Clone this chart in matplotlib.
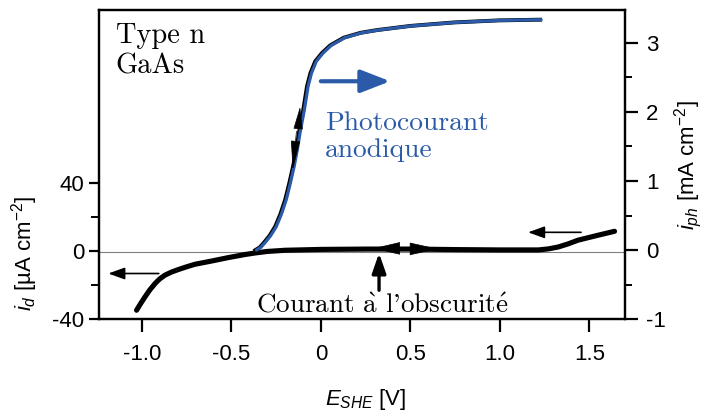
import matplotlib
matplotlib.use("Agg")
import matplotlib.pyplot as plt
from matplotlib.ticker import FixedLocator, FuncFormatter

plt.rcParams['font.family'] = ['Liberation Sans', 'DejaVu Sans']
plt.rcParams['mathtext.fontset'] = 'custom'
plt.rcParams['mathtext.rm'] = 'Liberation Sans'
plt.rcParams['mathtext.it'] = 'Liberation Sans:italic'
plt.rcParams['mathtext.bf'] = 'Liberation Sans:bold'
plt.rcParams['axes.unicode_minus'] = False

# ---- data ----
# photocurrent (right axis, mA cm^-2)
photo_E = [-0.36, -0.335, -0.311, -0.28, -0.249, -0.22, -0.193, -0.17, -0.149, -0.13,
           -0.116, -0.092, -0.071, -0.052, -0.025, 0.013, 0.059, 0.134, 0.227,
           0.32, 0.506, 0.748, 1.0, 1.23]
photo_i = [0.0, 0.04, 0.11, 0.21, 0.34, 0.52, 0.73, 0.97, 1.21, 1.47,
           1.70, 2.03, 2.37, 2.56, 2.73, 2.85, 2.96, 3.07, 3.14,
           3.18, 3.24, 3.29, 3.32, 3.33]
# dark current (left axis, uA cm^-2)
dark_E = [-1.029, -1.005, -0.982, -0.955, -0.926, -0.9, -0.871, -0.835, -0.796, -0.75,
          -0.703, -0.61, -0.517, -0.424, -0.368, -0.3, -0.2, 0.0, 0.26, 0.5, 0.75,
          1.0, 1.215, 1.27, 1.325, 1.38, 1.436, 1.548, 1.64]
dark_i = [-34.7, -30.6, -26.9, -22.8, -19.1, -16.4, -14.2, -12.4, -10.9, -9.3,
          -7.8, -5.9, -3.9, -2.1, -1.2, -0.3, 0.4, 0.9, 1.1, 1.1, 0.8,
          0.6, 0.6, 1.2, 2.3, 4.1, 6.3, 9.2, 11.5]

x_ticks = [-1.0, -0.5, 0.0, 0.5, 1.0, 1.5]
x_ticklabels = ['-1.0', '-0.5', '0', '0.5', '1.0', '1.5']
left_ticks = [-40, 0, 40]
left_minor = [-20, 20]
right_ticks = [-1, 0, 1, 2, 3]
right_minor = [-0.5, 0.5, 1.5, 2.5]

BLUE = '#2a5aa8'
SERIF = ['cmr10', 'DejaVu Serif']

fig = plt.figure(figsize=(7.04, 4.2), dpi=100)
L, R, T, B = 99.3, 625.3, 10.0, 319.3
ax = fig.add_axes([L / 704, 1 - B / 420, (R - L) / 704, (B - T) / 420])
ax2 = ax.twinx()

ax.set_xlim(-1.237, 1.70)
ax.set_ylim(-40, 141)
ax2.set_ylim(-1, 3.47)

for a in (ax, ax2):
    for s in a.spines.values():
        s.set_linewidth(1.6)

# zero line
ax.axhline(-0.6, color='#808080', lw=0.8, zorder=1)

# curves
ax.plot(dark_E, dark_i, color='black', lw=3.7, solid_capstyle='round',
        solid_joinstyle='round', zorder=3)
ax2.plot([e - 0.006 for e in photo_E], photo_i, color='black', lw=2.8,
         solid_joinstyle='round', zorder=3)
ax2.plot(photo_E, photo_i, color=BLUE, lw=2.3, solid_joinstyle='round',
         solid_capstyle='round', zorder=4)

# ticks
ax.xaxis.set_major_locator(FixedLocator(x_ticks))
ax.set_xticklabels(x_ticklabels)
ax.yaxis.set_major_locator(FixedLocator(left_ticks))
ax.yaxis.set_minor_locator(FixedLocator(left_minor))
ax.yaxis.set_major_formatter(FuncFormatter(lambda v, p: '%d' % v))
ax2.yaxis.set_major_locator(FixedLocator(right_ticks))
ax2.yaxis.set_minor_locator(FixedLocator(right_minor))
ax2.yaxis.set_major_formatter(FuncFormatter(lambda v, p: '%d' % v))

ax.tick_params(axis='x', which='major', direction='out', length=9.5, width=1.6,
               labelsize=16, pad=8, top=False)
ax.tick_params(axis='y', which='major', direction='out', length=7, width=1.6,
               labelsize=16, pad=4, right=False)
ax.tick_params(axis='y', which='minor', direction='out', length=6, width=1.4, right=False)
ax2.tick_params(axis='y', which='major', direction='out', length=9, width=1.6,
                labelsize=16, pad=6)
ax2.tick_params(axis='y', which='minor', direction='out', length=5, width=1.4)

# axis labels
fig.text(25 / 704, 1 - 253 / 420, r'$i_d$ [µA cm$^{-2}$]', rotation=90,
         ha='center', va='center', fontsize=16)
fig.text(688 / 704, 1 - 165 / 420, r'$i_{ph}$ [mA cm$^{-2}$]', rotation=90,
         ha='center', va='center', fontsize=16)
fig.text(366 / 704, 1 - 400 / 420, r'$E_{SHE}$ [V]', ha='center', va='center',
         fontsize=16)

# serif annotations
ax.text(-1.145, 121.5, 'Type n', family=SERIF, fontsize=20.5, va='baseline')
ax.text(-1.145, 104.0, 'GaAs', family=SERIF, fontsize=20.5, va='baseline')
ax.text(0.024, 70.6, 'Photocourant', family=SERIF, fontsize=19.8, va='baseline', color=BLUE)
ax.text(0.024, 54.8, 'anodique', family=SERIF, fontsize=19.8, va='baseline', color=BLUE)
ax.text(-0.361, -35.9, r"Courant $\mathrm{\grave{a}}$ l'obscurit$\mathrm{\acute{e}}$",
        family=SERIF, fontsize=19.5, va='baseline', math_fontfamily='cm')

# direction arrows
ax.annotate('', xy=(-1.187, -13.2), xytext=(-0.905, -13.2),
            arrowprops=dict(arrowstyle='-|>,head_length=1.0,head_width=0.36',
                            color='black', lw=1.2, shrinkA=0, shrinkB=0))
ax.annotate('', xy=(1.157, 10.9), xytext=(1.453, 10.9),
            arrowprops=dict(arrowstyle='-|>,head_length=1.0,head_width=0.36',
                            color='black', lw=1.2, shrinkA=0, shrinkB=0))
ax.annotate('', xy=(0.387, 99.3), xytext=(0.0, 99.3),
            arrowprops=dict(arrowstyle='-|>,head_length=1.8,head_width=0.7',
                            color=BLUE, lw=3.0, shrinkA=0, shrinkB=0))
ax.annotate('', xy=(0.325, -1.3), xytext=(0.325, -23.0),
            arrowprops=dict(arrowstyle='-|>,head_length=1.2,head_width=0.42',
                            color='black', lw=2.4, shrinkA=0, shrinkB=0))

# arrowheads on curves
def head(a, tip, base, hw, hl):
    a.annotate('', xy=tip, xytext=base,
               arrowprops=dict(arrowstyle='-|>,head_length=%g,head_width=%g' % (hl, hw),
                               color='black', lw=0.5, shrinkA=0, shrinkB=0), zorder=5)

head(ax2, (-0.116, 2.07), (-0.127, 1.75), 0.3, 1.45)
head(ax2, (-0.157, 1.16), (-0.136, 1.72), 0.3, 1.9)
head(ax, (0.292, 1.5), (0.432, 1.5), 0.42, 1.8)
head(ax, (0.655, 1.2), (0.50, 1.2), 0.42, 1.9)

fig.savefig('out.png', dpi=100)
